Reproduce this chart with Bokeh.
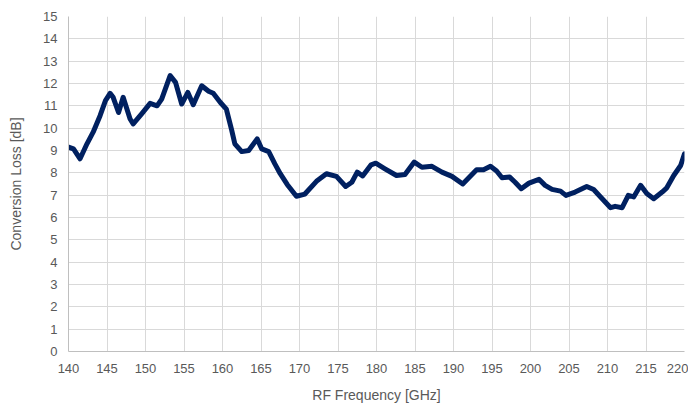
from bokeh.plotting import figure
from bokeh.models import Range1d, FixedTicker
from bokeh.embed import file_html
from bokeh.resources import INLINE

freq_ghz = [140, 140.65, 141.5, 142.4, 143.2, 144.1, 144.8, 145.4, 145.8, 146.5,
            147.1, 148.0, 148.4, 149.5, 150.6, 151.5, 152.1, 153.2, 153.9, 154.7,
            155.5, 156.2, 157.3, 158.2, 158.8, 159.7, 160.5, 161.2, 161.6, 162.5,
            163.4, 164.5, 165.1, 166.0, 166.8, 167.5, 168.4, 169.6, 170.7, 172.2,
            173.5, 174.8, 176.0, 176.8, 177.5, 178.2, 179.3, 179.9, 181.1, 182.6,
            183.7, 184.9, 185.9, 187.2, 188.5, 189.8, 191.2, 193.0, 193.9, 194.8,
            195.6, 196.3, 197.3, 198.0, 198.8, 199.8, 201.1, 201.9, 202.8, 203.9,
            204.6, 205.8, 207.3, 208.2, 209.1, 210.4, 211.0, 211.9, 212.7, 213.4,
            214.3, 215.1, 216.0, 217.1, 217.7, 218.6, 219.5, 220.0]
loss_db = [9.15, 9.07, 8.63, 9.3, 9.82, 10.56, 11.23, 11.56, 11.38, 10.7,
           11.38, 10.41, 10.19, 10.64, 11.11, 11.0, 11.3, 12.35, 12.05, 11.08,
           11.6, 11.05, 11.9, 11.65, 11.56, 11.16, 10.85, 9.9, 9.3, 8.95,
           9.0, 9.52, 9.07, 8.95, 8.4, 7.96, 7.48, 6.95, 7.05, 7.62,
           7.96, 7.84, 7.39, 7.58, 8.03, 7.86, 8.36, 8.43, 8.18, 7.88,
           7.93, 8.48, 8.25, 8.29, 8.03, 7.84, 7.5, 8.14, 8.14, 8.29,
           8.08, 7.78, 7.81, 7.58, 7.29, 7.54, 7.71, 7.44, 7.26, 7.18,
           6.99, 7.14, 7.39, 7.25, 6.92, 6.44, 6.5, 6.44, 6.99, 6.92,
           7.44, 7.07, 6.84, 7.14, 7.33, 7.88, 8.33, 8.85]
x_ticks = list(range(140, 221, 5))
y_ticks = list(range(0, 16))

FONT = "Liberation Sans"
GRAY_TXT = "#595959"

p = figure(width=688, height=409, output_backend="svg", toolbar_location=None,
           x_range=Range1d(140, 220), y_range=Range1d(0, 15),
           min_border_left=68, min_border_right=4, min_border_top=16, min_border_bottom=58)
p.outline_line_color = None
p.background_fill_color = "white"

p.line(freq_ghz, loss_db, line_color="#002060", line_width=5, line_join="round", line_cap="round")

p.xaxis.ticker = FixedTicker(ticks=x_ticks)
p.yaxis.ticker = FixedTicker(ticks=y_ticks)
for ax in (p.xaxis, p.yaxis):
    ax.major_tick_line_color = None
    ax.minor_tick_line_color = None
    ax.major_tick_out = 0
    ax.major_tick_in = 0
    ax.axis_line_color = "#bfbfbf"
    ax.major_label_text_font = FONT
    ax.major_label_text_font_size = "13px"
    ax.major_label_text_color = GRAY_TXT
    ax.axis_label_text_font = FONT
    ax.axis_label_text_font_size = "14px"
    ax.axis_label_text_font_style = "normal"
    ax.axis_label_text_color = GRAY_TXT
p.xaxis.axis_label = "RF Frequency [GHz]"
p.yaxis.axis_label = "Conversion Loss [dB]"
p.xaxis.major_label_standoff = 12
p.yaxis.major_label_standoff = 11
p.xaxis.axis_label_standoff = 11
p.yaxis.axis_label_standoff = 16

p.xgrid.ticker = FixedTicker(ticks=x_ticks)
p.ygrid.ticker = FixedTicker(ticks=y_ticks)
p.grid.grid_line_color = "#d9d9d9"
p.grid.grid_line_width = 1

open("out.html", "w").write(file_html(p, INLINE))
